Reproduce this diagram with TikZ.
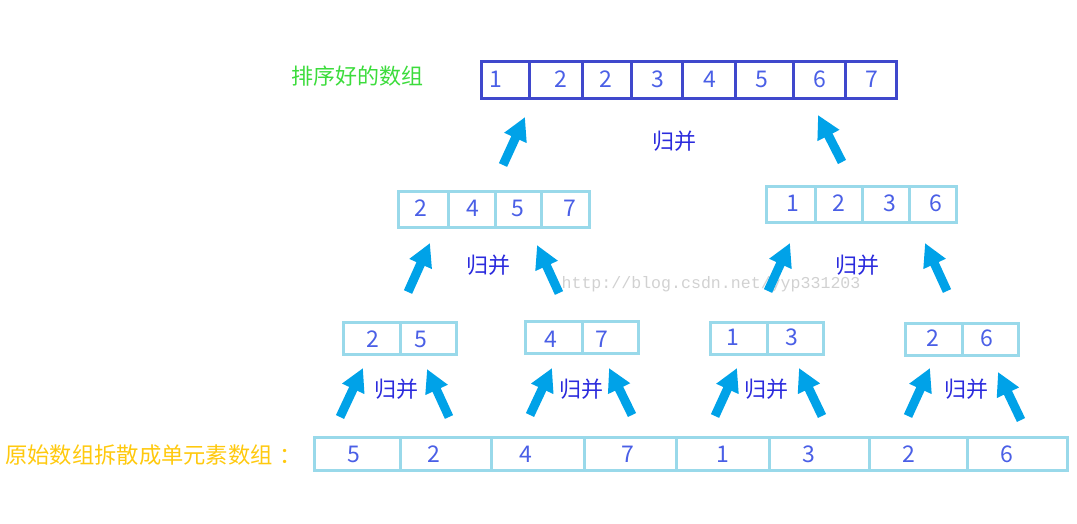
\documentclass[tikz,border=0pt]{standalone}
\usepackage{fontspec}
\setmainfont{Noto Sans CJK SC}
\setmonofont{Liberation Mono}
\usetikzlibrary{arrows.meta}
\definecolor{indigoline}{HTML}{3F48CC}
\definecolor{paleline}{HTML}{99D9EA}
\definecolor{numblue}{HTML}{4A5FE6}
\definecolor{mergeblue}{HTML}{2B2BDD}
\definecolor{arrowblue}{HTML}{00A2E8}
\definecolor{titlegreen}{HTML}{3CDC3C}
\definecolor{titlegold}{HTML}{FFC90E}
\def\cellrow[#1](#2,#3,#4,#5)#6{\draw[#1] (#2,#3) rectangle (#4,#5);
	\foreach \dx in {#6} {\draw[#1] (\dx,#3) -- (\dx,#5);}}
\tikzset{
	num/.style={text=numblue, font=\fontsize{23}{23}\selectfont, inner sep=0pt},
	mergetxt/.style={text=mergeblue, font=\fontsize{22}{22}\selectfont, inner sep=0pt},
	mergearrow/.style={-{Triangle[length=23pt,width=23pt]}, line width=9pt, draw=arrowblue, fill=arrowblue},
	paleedge/.style={draw=paleline, line width=3pt},
	topedge/.style={draw=indigoline, line width=3pt}
}

\begin{document}
\begin{tikzpicture}[x=1pt, y=-1pt]
			%%%%% START %%%%%
			\useasboundingbox (0,0) rectangle (1077,523);
			
			\node[text=black!18, font=\ttfamily\fontsize{16.6}{16.6}\selectfont, inner sep=0pt] (mark) at (711,284) {http://blog.csdn.net/yyp331203};
			
			% sorted array
			\node[text=titlegreen, font=\fontsize{22}{22}\selectfont, inner sep=0pt] (sortedlbl) at (357,76) {排序好的数组};
			\cellrow[topedge](481,61,896,98){529,582,631,682,735,793,845}
			\foreach \x/\v [count=\i] in {496/1,561/2,606/2,658/3,710/4,762/5,820/6,872/7}
				\node[num] (top\i) at (\x,79) {\v};
			
			% two halves
			\cellrow[paleedge](398,191,589,227){448,495,541}
			\foreach \x/\v [count=\i] in {421/2,473/4,518/5,570/7}
				\node[num] (hl\i) at (\x,208) {\v};
			\cellrow[paleedge](766,186,956,222){815,862,909}
			\foreach \x/\v [count=\i] in {793/1,839/2,890/3,936/6}
				\node[num] (hr\i) at (\x,203) {\v};
			
			% pairs
			\cellrow[paleedge](343,322,456,354){400}
			\node[num] (pa1) at (373,339) {2};
			\node[num] (pa2) at (421,339) {5};
			\cellrow[paleedge](525,321,638,353){582}
			\node[num] (pb1) at (551,339) {4};
			\node[num] (pb2) at (602,339) {7};
			\cellrow[paleedge](710,322,823,354){767}
			\node[num] (pc1) at (733,337) {1};
			\node[num] (pc2) at (792,337) {3};
			\cellrow[paleedge](905,323,1018,355){962}
			\node[num] (pd1) at (933,338) {2};
			\node[num] (pd2) at (987,338) {6};
			
			% single elements
			\node[text=titlegold, font=\fontsize{22.3}{22.3}\selectfont, inner sep=0pt, anchor=west] (splitlbl) at (5,455) {原始数组拆散成单元素数组\kern7pt：};
			\cellrow[paleedge](314,437,1067,470){400,491,584,676,769,869,967}
			\foreach \x/\v [count=\i] in {354/5,434/2,526/4,628/7,723/1,809/3,909/2,1007/6}
				\node[num] (one\i) at (\x,454) {\v};
			
			% merge labels
			\node[mergetxt] (mtop) at (674,141) {归并};
			\node[mergetxt] (mhl) at (488,265) {归并};
			\node[mergetxt] (mhr) at (857,265) {归并};
			\foreach \x [count=\i] in {396,581,766,966}
				\node[mergetxt] (mp\i) at (\x,389) {归并};
			
			% arrows
			\foreach \tx/\ty/\hx/\hy [count=\i] in {503/165/525/117, 842/162/818/115,
					408/292/430/243, 559/293/537/245, 768/291/790/243, 947/291/925/243,
					340/417/363/368, 449/417/427/369, 530/415/552/368, 632/415/609/368,
					715/416/737/368, 822/416/799/368, 908/416/930/368, 1021/420/998/372} {
				\coordinate (tail\i) at (\tx,\ty);
				\coordinate (head\i) at (\hx,\hy);
				\draw[mergearrow] (tail\i) -- (head\i);
			}
			
			%%%%% END %%%%%
\end{tikzpicture}
\end{document}
